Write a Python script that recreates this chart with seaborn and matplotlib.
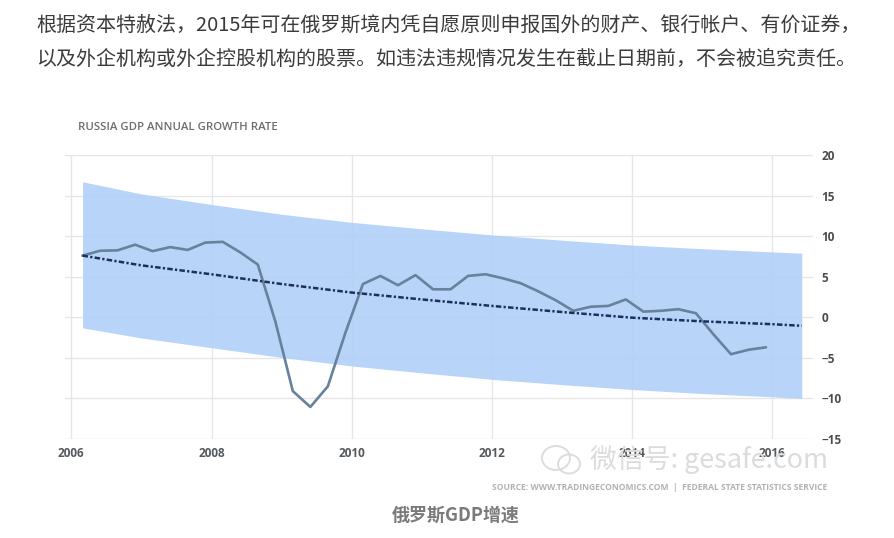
import matplotlib
matplotlib.use("Agg")
import matplotlib.pyplot as plt
from matplotlib.patches import Ellipse
import seaborn as sns

quarters = [2006.16, 2006.41, 2006.66, 2006.91, 2007.16, 2007.41, 2007.66, 2007.91,
            2008.16, 2008.41, 2008.66, 2008.91, 2009.16, 2009.41, 2009.66, 2009.91,
            2010.16, 2010.41, 2010.66, 2010.91, 2011.16, 2011.41, 2011.66, 2011.91,
            2012.16, 2012.41, 2012.66, 2012.91, 2013.16, 2013.41, 2013.66, 2013.91,
            2014.16, 2014.41, 2014.66, 2014.91, 2015.16, 2015.41, 2015.66, 2015.91]
gdp = [7.6, 8.2, 8.25, 8.95, 8.15, 8.65, 8.3, 9.2,
       9.3, 8.0, 6.5, -0.5, -9.1, -11.05, -8.5, -1.9,
       4.1, 5.1, 3.95, 5.2, 3.45, 3.45, 5.1, 5.3,
       4.8, 4.2, 3.2, 2.1, 0.8, 1.3, 1.4, 2.2,
       0.7, 0.8, 1.0, 0.5, -2.1, -4.55, -4.0, -3.7]
trend_x = [2006.16, 2007, 2008, 2009, 2010, 2011, 2012, 2013, 2014, 2015, 2016, 2016.42]
trend = [7.6, 6.4, 5.3, 4.1, 3.05, 2.2, 1.4, 0.65, -0.05, -0.5, -0.85, -1.05]
upper = [16.7, 15.2, 13.9, 12.7, 11.7, 10.9, 10.15, 9.5, 8.9, 8.45, 8.05, 7.9]
lower = [-1.3, -2.55, -3.75, -4.95, -6.0, -6.85, -7.65, -8.3, -8.9, -9.4, -9.8, -10.0]
x_ticks = [2006, 2008, 2010, 2012, 2014, 2016]
y_ticks = [20, 15, 10, 5, 0, -5, -10, -15]

para1 = "根据资本特赦法，2015年可在俄罗斯境内凭自愿原则申报国外的财产、银行帐户、有价证券，"
para2 = "以及外企机构或外企控股机构的股票。如违法违规情况发生在截止日期前，不会被追究责任。"
chart_title = "RUSSIA GDP ANNUAL GROWTH RATE"
source = "SOURCE: WWW.TRADINGECONOMICS.COM  |  FEDERAL STATE STATISTICS SERVICE"
watermark = "微信号: gesafe.com"
caption = "俄罗斯GDP增速"

sns.set_theme(style="white")
cjk = ["Noto Sans CJK SC", "DejaVu Sans"]
plt.rcParams["font.family"] = cjk

W, H = 895, 538
fig = plt.figure(figsize=(W / 100, H / 100), dpi=100, facecolor="white")
L, R, T, B = 65, 813, 155, 439
ax = fig.add_axes([L / W, 1 - B / H, (R - L) / W, (B - T) / H])
ax.set_xlim(2005.91, 2016.58)
ax.set_ylim(-15, 20)

ax.grid(True, color="#e6e6e6", lw=1.0, zorder=1)
ax.set_axisbelow(True)
ax.fill_between(trend_x, lower, upper, color="#b2d1f8", alpha=0.92, lw=0, zorder=2)
sns.lineplot(x=quarters, y=gdp, ax=ax, color="#66829c", lw=1.9, zorder=4, errorbar=None)
sns.lineplot(x=trend_x, y=trend, ax=ax, color="#1d2f5e", lw=1.8, zorder=5, errorbar=None,
             linestyle=(0, (2.2, 0.9, 0.9, 0.9)))

for s in ax.spines.values():
    s.set_visible(False)
ax.set_xticks(x_ticks)
ax.set_yticks(y_ticks)
ax.yaxis.tick_right()
ax.tick_params(axis="both", length=0)
ax.tick_params(axis="y", pad=6)
ax.tick_params(axis="x", pad=6)
for lab in ax.get_xticklabels():
    lab.set(fontfamily="Open Sans", fontweight="bold", fontsize=8.5, color="#55595c")
for lab in ax.get_yticklabels():
    lab.set(fontfamily="Open Sans", fontweight="bold", fontsize=8.5, color="#4a4d50", ha="left")

def put(x, y, s, **kw):
    fig.text(x / W, 1 - y / H, s, va="center", **kw)

put(36, 25, para1, fontsize=14.4, color="#3b3b3b", family=cjk)
put(36, 59, para2, fontsize=14.4, color="#3b3b3b", family=cjk)
put(78, 127, chart_title, fontsize=8.2, color="#6a6d70", fontfamily="Open Sans", fontweight="semibold")
put(590, 460, watermark, fontsize=19.4, color="#dcdcdc", family=cjk, zorder=6)
put(492, 487, source, fontsize=6.1, color="#b0b2b4", fontfamily="Open Sans", fontweight="bold")
put(456, 515, caption, fontsize=13, color="#7a7a7a", ha="center", fontweight="bold", family=cjk)

# WeChat-style watermark icon
for cx, cy, ew, eh in [(556, 458, 28, 24), (569, 464, 22, 19)]:
    fig.add_artist(Ellipse((cx / W, 1 - cy / H), ew / W, eh / H, transform=fig.transFigure,
                           fill=False, ec="#dcdcdc", lw=1.4))

fig.savefig("out.png", dpi=100, facecolor="white")
